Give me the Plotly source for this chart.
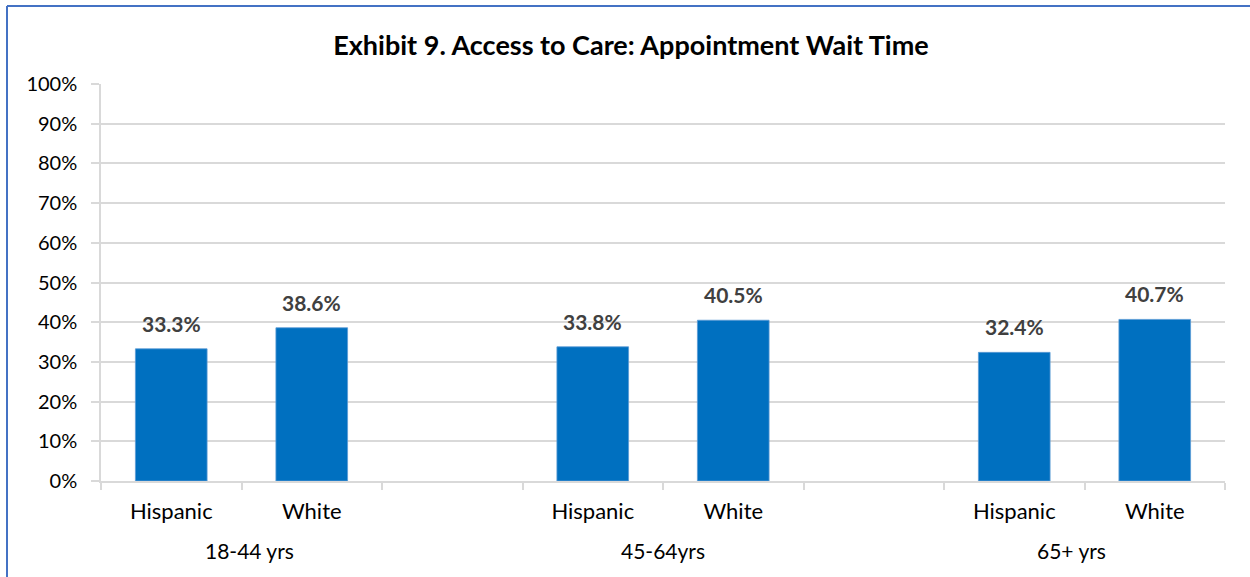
import plotly.graph_objects as go

# Data
categories = ["Hispanic", "White", "", "Hispanic", "White", "", "Hispanic", "White"]
values = [33.3, 38.6, None, 33.8, 40.5, None, 32.4, 40.7]
groups = ["18-44 yrs", "45-64yrs", "65+ yrs"]
group_pos = [0.56, 3.5, 6.41]
y_ticks = [0, 10, 20, 30, 40, 50, 60, 70, 80, 90, 100]
title = "Exhibit 9. Access to Care: Appointment Wait Time"

FONT = "Lato"
BLUE = "#0070C0"

xs = list(range(len(categories)))
bx = [x for x, v in zip(xs, values) if v is not None]
bv = [v for v in values if v is not None]

fig = go.Figure()
fig.add_trace(go.Bar(
    x=bx, y=bv, width=0.51,
    marker=dict(color=BLUE, line=dict(color="#5B9BD5", width=0.8)),
    hoverinfo="skip",
))

annotations = []
for x, v in zip(bx, bv):
    annotations.append(dict(
        x=x, y=v, xref="x", yref="y", text=f"{v:.1f}%", showarrow=False,
        yanchor="bottom", yshift=11,
        font=dict(family=FONT, size=21, color="#404040", weight="bold"),
    ))
for g, p in zip(groups, group_pos):
    annotations.append(dict(
        x=p, y=-0.174, xref="x", yref="paper", text=g, showarrow=False,
        yanchor="middle", xanchor="center",
        font=dict(family=FONT, size=21, color="#000000"),
    ))

tick_x = [x for x, c in zip(xs, categories) if c]
tick_t = [c for c in categories if c]

bx0 = (7 - 101) / 1124
by1 = 1 + (84 - 6) / 397

fig.update_layout(
    width=1250, height=577,
    margin=dict(l=101, r=25, t=84, b=96),
    paper_bgcolor="white", plot_bgcolor="white",
    showlegend=False,
    title=dict(text=f"<b>{title}</b>", x=(631 - 101) / 1124, xref="paper", xanchor="center",
               y=1 - 46 / 577, yanchor="middle",
               font=dict(family=FONT, size=27, color="#000000")),
    annotations=annotations,
    xaxis=dict(
        range=[-0.5, len(categories) - 0.5],
        tickvals=tick_x, ticktext=tick_t,
        ticks="outside", ticklen=10, tickcolor="rgba(0,0,0,0)",
        tickfont=dict(family=FONT, size=22, color="#000000"),
        showgrid=False, zeroline=False,
        showline=True, linecolor="#D9D9D9", linewidth=1.5,
        minor=dict(tickvals=[i - 0.5 for i in range(len(categories) + 1)],
                   ticks="outside", ticklen=7, tickcolor="#D9D9D9", tickwidth=1.5,
                   showgrid=False),
        fixedrange=True,
    ),
    yaxis=dict(
        range=[0, 100],
        tickvals=y_ticks, ticktext=[f"{t}%" for t in y_ticks],
        ticks="outside", ticklen=8, tickcolor="#D9D9D9", tickwidth=1.5,
        ticklabelstandoff=10,
        tickfont=dict(family=FONT, size=20, color="#000000"),
        showgrid=True, gridcolor="#D9D9D9", gridwidth=1.5,
        zeroline=False,
        showline=True, linecolor="#D9D9D9", linewidth=1.5,
        fixedrange=True,
    ),
    shapes=[
        dict(type="line", xref="paper", yref="paper",
             x0=bx0, x1=bx0, y0=-0.4, y1=by1,
             line=dict(color="#4472C4", width=2), layer="below"),
        dict(type="line", xref="paper", yref="paper",
             x0=bx0, x1=(1250 - 101) / 1124, y0=by1, y1=by1,
             line=dict(color="#4472C4", width=2), layer="below"),
    ],
)

fig.write_html("out.html",
               config={"displayModeBar": False},
               post_script="document.body.style.margin='0';document.body.style.overflow='hidden';")
